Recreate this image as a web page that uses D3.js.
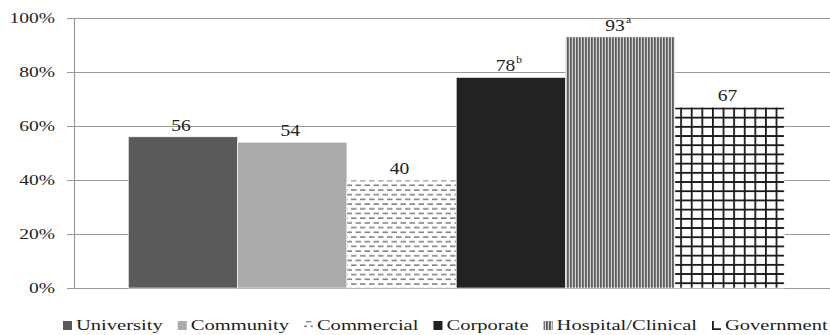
<!DOCTYPE html>
<meta charset="utf-8">
<script src="https://d3js.org/d3.v7.min.js"></script>
<style>
    body { margin: 0; background: #fff; }
    text { font-family: 'Liberation Serif', 'Times New Roman', serif; fill: #222; }
</style>
<div id="chart"></div>
<script>
    // values
    var categories = ["University", "Community", "Commercial", "Corporate", "Hospital/Clinical", "Government"];
    var values = [56, 54, 40, 78, 93, 67];
    var notes = ["", "", "", "b", "a", ""];
    var yTicks = [0, 20, 40, 60, 80, 100];

    var W = 830, H = 335;
    var plotLeft = 74.5, plotRight = 838, plotTop = 18, plotBottom = 288;

    var svg = d3.select("#chart").append("svg")
        .attr("width", W).attr("height", H);

    var defs = svg.append("defs");

    // dashed fill for Commercial
    var pc = defs.append("pattern").attr("id", "p-commercial")
        .attr("patternUnits", "userSpaceOnUse").attr("width", 9).attr("height", 9.4);
    pc.append("rect").attr("width", 9).attr("height", 9.4).attr("fill", "#fff");
    pc.append("path").attr("d", "M0,2h5.5M4.5,6.7h4.5M0,6.7h1")
        .attr("stroke", "#555").attr("stroke-width", 1.3);

    // vertical stripes for Hospital/Clinical
    var ph = defs.append("pattern").attr("id", "p-hospital")
        .attr("patternUnits", "userSpaceOnUse").attr("width", 3).attr("height", 4);
    ph.append("rect").attr("width", 3).attr("height", 4).attr("fill", "#d2d2d2");
    ph.append("rect").attr("width", 1.8).attr("height", 4).attr("fill", "#5e5e5e");

    var fills = ["#5a5a5a", "#ababab", "url(#p-commercial)", "#222222", "url(#p-hospital)", "url(#p-government)"];

    var y = d3.scaleLinear().domain([0, 100]).range([plotBottom, plotTop]);

    var group = d3.scaleBand().domain(["all"]).range([plotLeft, plotRight]).paddingOuter(0.082);
    var x = d3.scaleBand().domain(categories)
        .range([group("all"), group("all") + group.bandwidth()]);

    // grid for Government, aligned on its bar
    var gx = x("Government"), gy = y(values[5]);
    var pg = defs.append("pattern").attr("id", "p-government")
        .attr("patternUnits", "userSpaceOnUse").attr("width", 10.6).attr("height", 9.2)
        .attr("x", gx + 5.3 - 10.6).attr("y", gy + 9.6 - 9.2);
    pg.append("rect").attr("width", 10.6).attr("height", 9.2).attr("fill", "#fff");
    pg.append("path").attr("d", "M0.9,0v9.2M0,0.9h10.6")
        .attr("stroke", "#1a1a1a").attr("stroke-width", 1.8);

    // gridlines + ticks
    svg.append("g").selectAll("line").data(yTicks).enter().append("line")
        .attr("x1", plotLeft - 7.5).attr("x2", plotRight)
        .attr("y1", function(d) { return Math.round(y(d)) + 0.5; })
        .attr("y2", function(d) { return Math.round(y(d)) + 0.5; })
        .attr("stroke", "#9a9a9a").attr("stroke-width", 1.2);

    svg.append("line")
        .attr("x1", plotLeft).attr("x2", plotLeft).attr("y1", y(100)).attr("y2", y(0))
        .attr("stroke", "#9a9a9a").attr("stroke-width", 1.2);

    svg.append("g").selectAll("text").data(yTicks).enter().append("text")
        .attr("transform", function(d) { return "translate(" + (plotLeft - 19.5) + "," + (y(d) + 5) + ") scale(1.3,1)"; })
        .attr("text-anchor", "end")
        .style("font-size", "15px")
        .text(function(d) { return d + "%"; });

    // bars
    svg.append("g").selectAll("rect").data(categories).enter().append("rect")
        .attr("x", function(d) { return x(d); })
        .attr("width", x.bandwidth())
        .attr("y", function(d, i) { return y(values[i]); })
        .attr("height", function(d, i) { return y(0) - y(values[i]); })
        .attr("fill", function(d, i) { return fills[i]; })
        .attr("stroke", "#fff").attr("stroke-width", 0.6);

    // value labels
    var lab = svg.append("g").selectAll("text").data(categories).enter().append("text")
        .attr("transform", function(d, i) {
            return "translate(" + (x(d) + x.bandwidth() / 2 - 2) + "," + (y(values[i]) - 6) + ") scale(1.15,1)";
        })
        .attr("text-anchor", "middle")
        .style("font-size", "17px");
    lab.append("tspan").text(function(d, i) { return values[i]; });
    lab.append("tspan")
        .attr("dy", -8).attr("dx", 1)
        .style("font-size", "10px")
        .text(function(d, i) { return notes[i]; });

    // legend
    var legend = svg.append("g");
    var lx = 63, ly = 330, sc = 1.37;
    categories.forEach(function(c, i) {
        legend.append("rect")
            .attr("x", lx).attr("y", ly - 9).attr("width", 9).attr("height", 9)
            .attr("fill", fills[i]);
        var t = legend.append("text")
            .attr("transform", "translate(" + (lx + 13) + "," + ly + ") scale(" + sc + ",1)")
            .style("font-size", "15px")
            .text(c);
        lx += 13 + t.node().getComputedTextLength() * sc + 15;
    });
</script>
